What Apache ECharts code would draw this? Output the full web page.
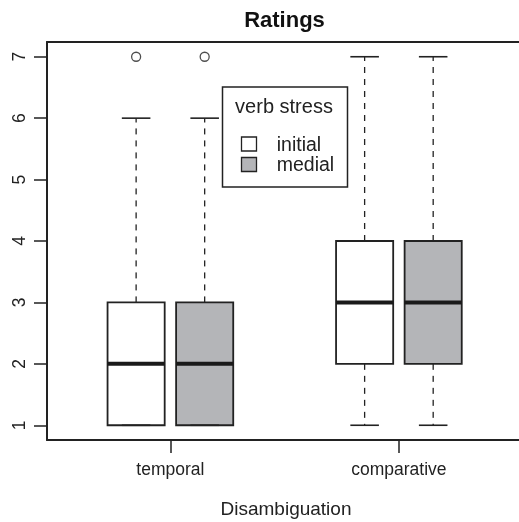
<!DOCTYPE html>
<html><head><meta charset="utf-8">
<script src="https://cdn.jsdelivr.net/npm/echarts@6/dist/echarts.min.js"></script>
<style>html,body{margin:0;padding:0;background:#fff;overflow:hidden}#c{width:519px;height:522px}</style>
</head><body><div id="c"></div>
<script>
// ---- data ----
const groups = ['temporal', 'comparative'];
const stressLevels = ['initial', 'medial'];
const yTicks = [1, 2, 3, 4, 5, 6, 7];
const initialLow = [1, 1];
const initialQ1 = [1, 2];
const initialMedian = [2, 3];
const initialQ3 = [3, 4];
const initialHigh = [6, 7];
const initialOutliers = [[7], []];
const medialLow = [1, 1];
const medialQ1 = [1, 2];
const medialMedian = [2, 3];
const medialQ3 = [3, 4];
const medialHigh = [6, 7];
const medialOutliers = [[7], []];

// ---- style / layout ----
const FONT = '"Liberation Sans", Arial, Helvetica, sans-serif';
const INK = '#222';
const GRAY = '#b4b5b8';
const BOX_W = 0.25;
const OFFSET = 0.15;

function boxData(offset, low, q1, med, q3, high) {
  return groups.map((g, i) => [i + 1 + offset, low[i], q1[i], med[i], q3[i], high[i]]);
}
function outlierData(offset, outs) {
  const res = [];
  outs.forEach((arr, i) => arr.forEach(v => res.push([i + 1 + offset, v])));
  return res;
}
function makeRender(fill) {
  return function (params, api) {
    const x = api.value(0);
    const pLo = api.coord([x, api.value(1)]);
    const pQ1 = api.coord([x, api.value(2)]);
    const pMed = api.coord([x, api.value(3)]);
    const pQ3 = api.coord([x, api.value(4)]);
    const pHi = api.coord([x, api.value(5)]);
    const hw = api.size([BOX_W, 0])[0] / 2;
    const cx = pMed[0];
    const dash = { stroke: INK, lineWidth: 1.3, lineDash: [6, 6] };
    const solid = { stroke: INK, lineWidth: 1.6 };
    return {
      type: 'group',
      children: [
        { type: 'rect', shape: { x: cx - hw, y: pQ3[1], width: 2 * hw, height: pQ1[1] - pQ3[1] }, style: { fill: fill, stroke: null } },
        { type: 'line', shape: { x1: cx, y1: pQ3[1], x2: cx, y2: pHi[1] }, style: dash },
        { type: 'line', shape: { x1: cx, y1: pQ1[1], x2: cx, y2: pLo[1] }, style: dash },
        { type: 'line', shape: { x1: cx - hw / 2, y1: pHi[1], x2: cx + hw / 2, y2: pHi[1] }, style: solid },
        { type: 'line', shape: { x1: cx - hw / 2, y1: pLo[1], x2: cx + hw / 2, y2: pLo[1] }, style: solid },
        { type: 'rect', shape: { x: cx - hw, y: pQ3[1], width: 2 * hw, height: pQ1[1] - pQ3[1] }, style: { fill: null, stroke: INK, lineWidth: 1.8 } },
        { type: 'line', shape: { x1: cx - hw, y1: pMed[1], x2: cx + hw, y2: pMed[1] }, style: { stroke: '#1a1a1a', lineWidth: 4 } }
      ]
    };
  };
}

const frameLine = { show: true, lineStyle: { color: INK, width: 2 } };
const chart = echarts.init(document.getElementById('c'), null, { renderer: 'canvas' });
chart.setOption({
  animation: false,
  backgroundColor: '#fff',
  textStyle: { fontFamily: FONT },
  grid: { left: 47, top: 42, width: 475.3, height: 398, show: false, outerBoundsMode: 'none', containLabel: false },
  xAxis: [{
    type: 'value', min: 0.46, max: 2.54, position: 'bottom',
    axisLine: frameLine,
    splitLine: { show: false },
    axisTick: { show: true, customValues: [1, 2], length: 13, lineStyle: { color: INK, width: 1.5 } },
    axisLabel: { customValues: [1, 2], formatter: v => groups[Math.round(v) - 1], fontSize: 17.5, color: '#222', margin: 21, fontFamily: FONT }
  }, {
    type: 'value', min: 0.46, max: 2.54, position: 'top',
    axisLine: frameLine,
    splitLine: { show: false }, axisTick: { show: false }, axisLabel: { show: false }
  }],
  yAxis: {
    type: 'value', min: 0.76, max: 7.24,
    axisLine: frameLine,
    splitLine: { show: false },
    axisTick: { show: true, customValues: yTicks, length: 13, lineStyle: { color: INK, width: 1.5 } },
    axisLabel: { customValues: yTicks, rotate: 90, fontSize: 17.5, color: '#222', margin: 18, fontFamily: FONT }
  },
  series: [
    { type: 'custom', name: stressLevels[0], renderItem: makeRender('#ffffff'), data: boxData(-OFFSET, initialLow, initialQ1, initialMedian, initialQ3, initialHigh), encode: { x: 0, y: [1, 2, 3, 4, 5] }, z: 2 },
    { type: 'custom', name: stressLevels[1], renderItem: makeRender(GRAY), data: boxData(OFFSET, medialLow, medialQ1, medialMedian, medialQ3, medialHigh), encode: { x: 0, y: [1, 2, 3, 4, 5] }, z: 2 },
    { type: 'scatter', symbol: 'circle', symbolSize: 9, data: outlierData(-OFFSET, initialOutliers), itemStyle: { color: 'transparent', borderColor: INK, borderWidth: 1.3 }, z: 3 },
    { type: 'scatter', symbol: 'circle', symbolSize: 9, data: outlierData(OFFSET, medialOutliers), itemStyle: { color: 'transparent', borderColor: INK, borderWidth: 1.3 }, z: 3 }
  ],
  graphic: [
    { type: 'text', x: 284.5, y: 21.4, style: { text: 'Ratings', font: 'bold 22px ' + FONT, fill: '#111', align: 'center', verticalAlign: 'middle' } },
    { type: 'text', x: 286, y: 510, style: { text: 'Disambiguation', font: '19px ' + FONT, fill: '#222', align: 'center', verticalAlign: 'middle' } },
    { type: 'rect', z: 10, shape: { x: 222.5, y: 87, width: 125, height: 100 }, style: { fill: '#fff', stroke: INK, lineWidth: 1.5 } },
    { type: 'text', z: 11, x: 284, y: 107, style: { text: 'verb stress', font: '20px ' + FONT, fill: '#222', align: 'center', verticalAlign: 'middle' } },
    { type: 'rect', z: 11, shape: { x: 241.5, y: 137, width: 15, height: 14 }, style: { fill: '#fff', stroke: INK, lineWidth: 1.3 } },
    { type: 'rect', z: 11, shape: { x: 241.5, y: 157.5, width: 15, height: 14 }, style: { fill: GRAY, stroke: INK, lineWidth: 1.3 } },
    { type: 'text', z: 11, x: 276.7, y: 146, style: { text: stressLevels[0], font: '19.5px ' + FONT, fill: '#222', align: 'left', verticalAlign: 'middle' } },
    { type: 'text', z: 11, x: 276.7, y: 166, style: { text: stressLevels[1], font: '19.5px ' + FONT, fill: '#222', align: 'left', verticalAlign: 'middle' } }
  ]
});
</script></body></html>
